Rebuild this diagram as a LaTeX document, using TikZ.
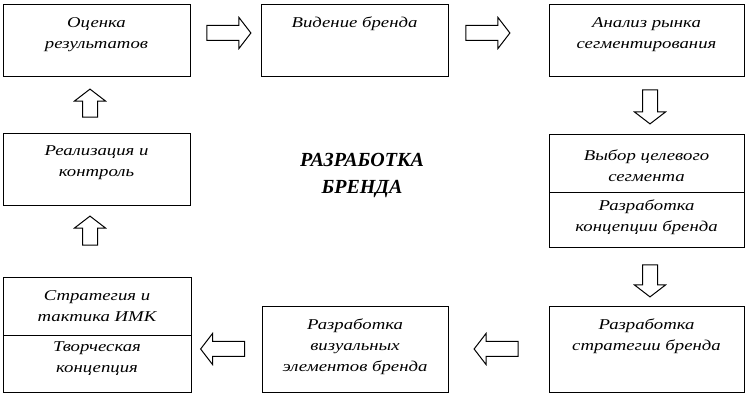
\documentclass[tikz,border=0pt]{standalone}
\usepackage{fontspec}
\setmainfont{Liberation Serif}
\newfontfamily\boxfont[FakeStretch=1.25]{Liberation Serif}
\usetikzlibrary{positioning,shapes.arrows}

\begin{document}
\begin{tikzpicture}[x=1pt,y=-1pt,
    box/.style={draw,line width=1pt,inner sep=0pt,minimum width=187pt,minimum height=72pt},
    txt/.style={inner sep=0pt,align=center,font=\boxfont\itshape\fontsize{15}{21}\selectfont},
    blockarrow/.style={draw,line width=1pt,single arrow,inner sep=7pt,
        single arrow head extend=8pt,single arrow tip angle=105,minimum height=44pt}]
        \useasboundingbox (0,0) rectangle (756,406);
        % boxes
        \node[box] (eval) at (96.5,41) {};
        \node[box] (vision) at (354.5,41) {};
        \node[box,minimum width=195pt] (market) at (646.5,41) {};
        \node[box,minimum width=195pt,minimum height=58pt] (target) at (646.5,164) {};
        \node[box,minimum width=195pt,minimum height=55pt] (concept) at (646.5,220.5) {};
        \node[box,minimum width=195pt,minimum height=86pt] (strategy) at (646.5,350) {};
        \node[box,minimum width=186pt,minimum height=86pt] (visual) at (355,350) {};
        \node[box,minimum width=188pt,minimum height=58pt] (imk) at (97,307) {};
        \node[box,minimum width=188pt,minimum height=57pt] (creative) at (97,364.5) {};
        \node[box] (control) at (96.5,170) {};
        % texts
        \node[txt,below=12.5pt of eval.north] (eval text) {Оценка\\результатов};
        \node[txt,below=12.5pt of vision.north] (vision text) {Видение бренда};
        \node[txt,below=12.5pt of market.north] (market text) {Анализ рынка\\сегментирования};
        \node[txt,below=15pt of target.north] (target text) {Выбор целевого\\сегмента};
        \node[txt,below=7pt of concept.north] (concept text) {Разработка\\концепции бренда};
        \node[txt,below=12.5pt of strategy.north] (strategy text) {Разработка\\стратегии бренда};
        \node[txt,below=12.5pt of visual.north] (visual text) {Разработка\\визуальных\\элементов бренда};
        \node[txt,below=13pt of imk.north] (imk text) {Стратегия и\\тактика ИМК};
        \node[txt,below=6pt of creative.north] (creative text) {Творческая\\концепция};
        \node[txt,below=12pt of control.north] (control text) {Реализация и\\контроль};
        \node[font=\bfseries\itshape\fontsize{20}{27}\selectfont,align=center] (title) at (362,176) {РАЗРАБОТКА\\БРЕНДА};
        % arrows
        \node[blockarrow] (a1) at (226,33) {};
        \node[blockarrow] (a2) at (485,33) {};
        \node[blockarrow,shape border rotate=270,minimum height=34pt] (a3) at (650,104) {};
        \node[blockarrow,shape border rotate=270,minimum height=32pt] (a4) at (650,278) {};
        \node[blockarrow,shape border rotate=180] (a5) at (499,349) {};
        \node[blockarrow,shape border rotate=180] (a6) at (225.5,349) {};
        \node[blockarrow,shape border rotate=90,minimum height=29pt] (a7) at (90,233.5) {};
        \node[blockarrow,shape border rotate=90,minimum height=28pt] (a8) at (90,106) {};
    \end{tikzpicture}
\end{document}
